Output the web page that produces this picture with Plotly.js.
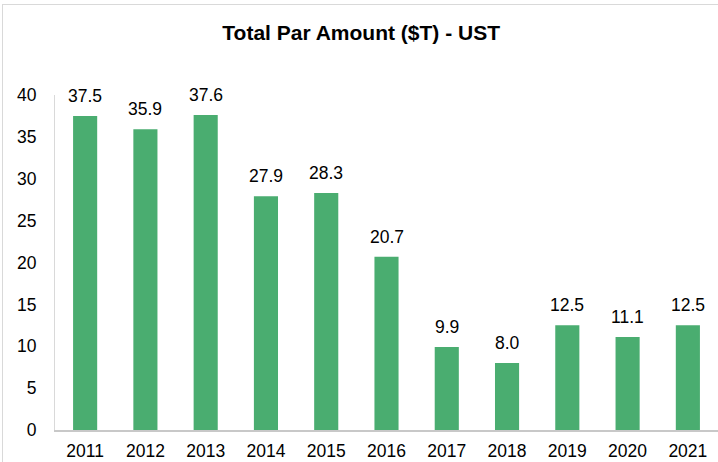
<!DOCTYPE html>
<html><head><meta charset="utf-8">
<script src="https://cdn.plot.ly/plotly-3.0.1.min.js"></script>
<style>
html,body{margin:0;padding:0;background:#fff;overflow:hidden;}
#frame{position:absolute;left:2px;top:4px;width:800px;height:600px;border:1px solid #d9d9d9;pointer-events:none;}
#chart{position:absolute;left:0;top:0;width:718px;height:462px;}
</style></head>
<body>
<div id="chart"></div>
<div id="frame"></div>
<script>
const years = ['2011','2012','2013','2014','2015','2016','2017','2018','2019','2020','2021'];
const values = [37.5, 35.9, 37.6, 27.9, 28.3, 20.7, 9.9, 8.0, 12.5, 11.1, 12.5];
const yTicks = [0, 5, 10, 15, 20, 25, 30, 35, 40];

const FONT = 'Liberation Sans, Arial, sans-serif';
const trace = {
  type: 'bar', x: years, y: values,
  marker: {color: '#4AAD70'},
  hoverinfo: 'x+y'
};
const annotations = years.map((yr, i) => ({
  x: i, y: values[i], xref: 'x', yref: 'y',
  text: values[i].toFixed(1), showarrow: false,
  yanchor: 'bottom', yshift: 8,
  font: {family: FONT, size: 17.5, color: '#000'}
}));
const layout = {
  width: 718, height: 462,
  margin: {l: 55, r: 0, t: 95, b: 32},
  paper_bgcolor: 'rgba(0,0,0,0)', plot_bgcolor: 'rgba(0,0,0,0)',
  title: {text: '<b>Total Par Amount ($T) - UST</b>', x: 0.503, xanchor: 'center', y: 1 - 33/462, yanchor: 'middle',
    font: {family: FONT, size: 21, color: '#000'}},
  bargap: 0.6,
  showlegend: false,
  xaxis: {
    type: 'category', range: [-0.5, 10.5], showline: true, linecolor: '#c8c8c8', linewidth: 2,
    showgrid: false, ticks: '', ticklabelstandoff: 4,
    tickfont: {family: FONT, size: 17.5, color: '#000'}
  },
  yaxis: {
    range: [0, 40], tickvals: yTicks, showline: true, linecolor: '#d9d9d9', linewidth: 1,
    showgrid: false, zeroline: false, ticks: '', ticklabelstandoff: 14,
    tickfont: {family: FONT, size: 17.5, color: '#000'}
  },
  annotations: annotations
};
Plotly.newPlot('chart', [trace], layout, {displayModeBar: false, staticPlot: true});
</script>
</body></html>
